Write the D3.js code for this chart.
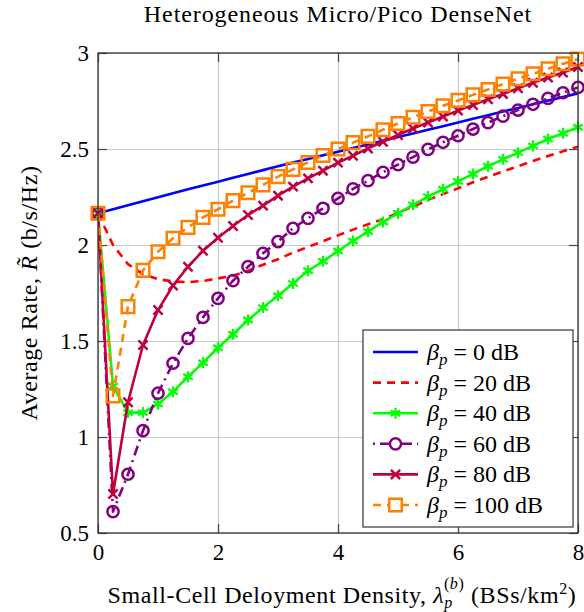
<!DOCTYPE html>
<html><head><meta charset="utf-8">
<script src="https://cdn.jsdelivr.net/npm/d3@7"></script>
<style>
body{margin:0;background:#fff;}
</style>
</head><body>
<svg id="chart" width="584" height="612" style="font-family:'Liberation Serif','Tinos','Times New Roman','DejaVu Serif','Noto Serif',serif"></svg>
<script>
// ---------------- data ----------------
const xValues = [0,0.25,0.5,0.75,1,1.25,1.5,1.75,2,2.25,2.5,2.75,3,3.25,3.5,3.75,4,4.25,4.5,4.75,5,5.25,5.5,5.75,6,6.25,6.5,6.75,7,7.25,7.5,7.75,8];
const beta0   = [2.165,2.186,2.207,2.228,2.249,2.269,2.29,2.31,2.33,2.35,2.37,2.39,2.41,2.429,2.448,2.467,2.486,2.505,2.524,2.543,2.562,2.581,2.6,2.619,2.638,2.657,2.676,2.695,2.714,2.733,2.752,2.771,2.79];
const beta20  = [2.165,2.0,1.9,1.848,1.822,1.81,1.806,1.813,1.826,1.84,1.866,1.897,1.926,1.96,1.99,2.02,2.05,2.08,2.108,2.134,2.168,2.2,2.235,2.265,2.295,2.327,2.355,2.383,2.41,2.438,2.463,2.488,2.512];
const beta40  = [2.165,1.266,1.127,1.127,1.172,1.236,1.314,1.387,1.465,1.535,1.609,1.674,1.736,1.80,1.866,1.915,1.969,2.021,2.07,2.12,2.165,2.209,2.252,2.291,2.331,2.37,2.41,2.446,2.481,2.516,2.552,2.582,2.613];
const beta60  = [2.165,0.611,0.806,1.033,1.228,1.384,1.514,1.623,1.722,1.814,1.887,1.957,2.018,2.087,2.139,2.191,2.243,2.292,2.335,2.379,2.419,2.458,2.498,2.535,2.569,2.604,2.637,2.671,2.703,2.733,2.764,2.793,2.821];
const beta80  = [2.165,0.703,1.181,1.479,1.661,1.789,1.887,1.970,2.038,2.099,2.156,2.205,2.257,2.304,2.347,2.387,2.429,2.465,2.503,2.538,2.573,2.607,2.638,2.669,2.7,2.729,2.759,2.787,2.816,2.845,2.872,2.898,2.927];
const beta100 = [2.165,1.214,1.679,1.868,1.965,2.035,2.092,2.144,2.186,2.231,2.272,2.313,2.356,2.394,2.43,2.466,2.5,2.533,2.566,2.6,2.633,2.665,2.695,2.725,2.753,2.782,2.81,2.838,2.866,2.892,2.918,2.944,2.968];
const seriesLabels = ["0","20","40","60","80","100"];
const xTicks = [0,2,4,6,8];
const xTickLabels = ["0","2","4","6","8"];
const yTicks = [0.5,1,1.5,2,2.5,3];
const yTickLabels = ["0.5","1","1.5","2","2.5","3"];

// ---------------- styles ----------------
const styles = [
  {data:beta0,   color:"#0000ff", dash:null,        marker:null},
  {data:beta20,  color:"#ff0000", dash:"8,6",       marker:null},
  {data:beta40,  color:"#00ff00", dash:null,        marker:"asterisk"},
  {data:beta60,  color:"#800080", dash:"2,5,10,5",  marker:"circle"},
  {data:beta80,  color:"#bf0040", dash:null,        marker:"x"},
  {data:beta100, color:"#ff8000", dash:"8,6",       marker:"square"}
];
const FONT = "'Liberation Serif','Tinos','Times New Roman','DejaVu Serif','Noto Serif',serif";

const svg = d3.select("#chart");
const L=98, R=578, T=53, B=533;
const x = d3.scaleLinear().domain([0,8]).range([L,R]);
const y = d3.scaleLinear().domain([0.5,3]).range([B,T]);

// grid
const grid = svg.append("g");
grid.append("g").attr("transform",`translate(0,${B})`)
  .call(d3.axisBottom(x).tickValues(xTicks).tickSize(-(B-T)).tickFormat(""))
  .call(g=>{g.select(".domain").remove(); g.selectAll("line").attr("stroke","#c8c8c8").attr("stroke-width",1.2);});
grid.append("g").attr("transform",`translate(${L},0)`)
  .call(d3.axisLeft(y).tickValues(yTicks).tickSize(-(R-L)).tickFormat(""))
  .call(g=>{g.select(".domain").remove(); g.selectAll("line").attr("stroke","#c8c8c8").attr("stroke-width",1.2);});

// inner tick marks on all sides
const tk = 9;
function tickStyle(g){ g.select(".domain").remove(); g.selectAll("line").attr("stroke","#444").attr("stroke-width",1.2); }
svg.append("g").attr("transform",`translate(0,${B})`).call(d3.axisBottom(x).tickValues(xTicks).tickSize(-tk).tickFormat("")).call(tickStyle);
svg.append("g").attr("transform",`translate(0,${T})`).call(d3.axisTop(x).tickValues(xTicks).tickSize(-tk).tickFormat("")).call(tickStyle);
svg.append("g").attr("transform",`translate(${L},0)`).call(d3.axisLeft(y).tickValues(yTicks).tickSize(-tk).tickFormat("")).call(tickStyle);
svg.append("g").attr("transform",`translate(${R},0)`).call(d3.axisRight(y).tickValues(yTicks).tickSize(-tk).tickFormat("")).call(tickStyle);

// tick labels
const xAx = svg.append("g").attr("transform",`translate(0,${B})`)
  .call(d3.axisBottom(x).tickValues(xTicks).tickSize(0).tickPadding(0).tickFormat((d,i)=>xTickLabels[i]));
xAx.attr("font-family",FONT);
xAx.select(".domain").remove();
xAx.selectAll("text").attr("font-size",23).attr("dy",null).attr("y",27).style("font-family",FONT);
const yAx = svg.append("g").attr("transform",`translate(${L},0)`)
  .call(d3.axisLeft(y).tickValues(yTicks).tickSize(0).tickPadding(9).tickFormat((d,i)=>yTickLabels[i]));
yAx.attr("font-family",FONT);
yAx.select(".domain").remove();
yAx.selectAll("text").attr("font-size",23).attr("dy","0.33em").style("font-family",FONT);

// clip
svg.append("defs").append("clipPath").attr("id","clip")
  .append("rect").attr("x",L).attr("y",T).attr("width",R-L).attr("height",B-T);

function markerPath(type, cx, cy){
  const p = d3.path();
  if(type==="asterisk"){
    const r=5.5;
    for(const a of [90,30,-30]){
      const rad=a*Math.PI/180;
      p.moveTo(cx+r*Math.cos(rad), cy-r*Math.sin(rad));
      p.lineTo(cx-r*Math.cos(rad), cy+r*Math.sin(rad));
    }
  } else if(type==="x"){
    const r=4.6;
    p.moveTo(cx-r,cy-r); p.lineTo(cx+r,cy+r);
    p.moveTo(cx-r,cy+r); p.lineTo(cx+r,cy-r);
  } else if(type==="square"){
    const h=6.3;
    p.rect(cx-h,cy-h,2*h,2*h);
  } else if(type==="circle"){
    const r=5.6;
    p.moveTo(cx+r,cy); p.arc(cx,cy,r,0,2*Math.PI);
  }
  return p.toString();
}

const line = d3.line().x((d,i)=>x(xValues[i])).y(d=>y(d));
const plot = svg.append("g");
styles.forEach(s=>{
  plot.append("path").attr("clip-path","url(#clip)")
    .attr("d", line(s.data)).attr("fill","none")
    .attr("stroke",s.color).attr("stroke-width",2.6)
    .attr("stroke-dasharray",s.dash).attr("stroke-linejoin","round");
  if(s.marker){
    plot.append("g").selectAll("path").data(s.data).join("path")
      .attr("d",(d,i)=>markerPath(s.marker,x(xValues[i]),y(d)))
      .attr("fill","none").attr("stroke",s.color)
      .attr("stroke-width", s.marker==="asterisk"?2.2:2.5);
  }
});

// frame
svg.append("rect").attr("x",L).attr("y",T).attr("width",R-L).attr("height",B-T)
  .attr("fill","none").attr("stroke","#333").attr("stroke-width",1.3);

function txt(sel){ return sel.style("font-family",FONT); }

// title
txt(svg.append("text")).attr("x",(L+R)/2).attr("y",22).attr("text-anchor","middle")
  .attr("font-size",24).attr("letter-spacing","0.9px").text("Heterogeneous Micro/Pico DenseNet");

// x label
const xl = txt(svg.append("text")).attr("x",(L+R)/2+4).attr("y",603).attr("text-anchor","middle")
  .attr("font-size",24).attr("letter-spacing","0.6px");
xl.append("tspan").text("Small-Cell Deloyment Density, ");
xl.append("tspan").attr("font-style","italic").text("λ");
xl.append("tspan").attr("font-style","italic").attr("font-size",16).attr("dy",5).text("p");
xl.append("tspan").attr("font-size",16).attr("dx",-9).attr("dy",-19).text("(");
xl.append("tspan").attr("font-size",16).attr("font-style","italic").text("b");
xl.append("tspan").attr("font-size",16).text(")");
xl.append("tspan").attr("dy",14).text(" (BSs/km");
xl.append("tspan").attr("font-size",16).attr("dy",-9).text("2");
xl.append("tspan").attr("dy",9).text(")");

// y label
const yl = txt(svg.append("text")).attr("transform",`translate(37,293) rotate(-90)`)
  .attr("text-anchor","middle").attr("font-size",24).attr("letter-spacing","0.6px");
yl.append("tspan").text("Average Rate, ");
yl.append("tspan").attr("font-style","italic").text("R\u0303");
yl.append("tspan").text(" (b/s/Hz)");

// legend
const lg = svg.append("g");
const LX=363, LY=330, LW=210, LH=197;
lg.append("rect").attr("x",LX).attr("y",LY).attr("width",LW).attr("height",LH)
  .attr("fill","#fff").attr("stroke","#444").attr("stroke-width",1.3);
const rowY = d3.scaleLinear().domain([0,5]).range([352,505]);
styles.forEach((s,i)=>{
  const cy=rowY(i);
  lg.append("line").attr("x1",373).attr("x2",418).attr("y1",cy).attr("y2",cy)
    .attr("stroke",s.color).attr("stroke-width",2.6).attr("stroke-dasharray",s.dash);
  if(s.marker){
    lg.append("path").attr("d",markerPath(s.marker,395.5,cy)).attr("fill",s.marker==="circle"||s.marker==="square"?"#fff":"none")
      .attr("stroke",s.color).attr("stroke-width",s.marker==="asterisk"?2.2:2.5);
  }
  const t = txt(lg.append("text")).attr("x",427).attr("y",cy+8).attr("font-size",24);
  t.append("tspan").attr("font-style","italic").text("β");
  t.append("tspan").attr("font-style","italic").attr("font-size",17).attr("dy",5).text("p");
  t.append("tspan").attr("dy",-5).text(" = "+seriesLabels[i]+" dB");
});
</script>
</body></html>
